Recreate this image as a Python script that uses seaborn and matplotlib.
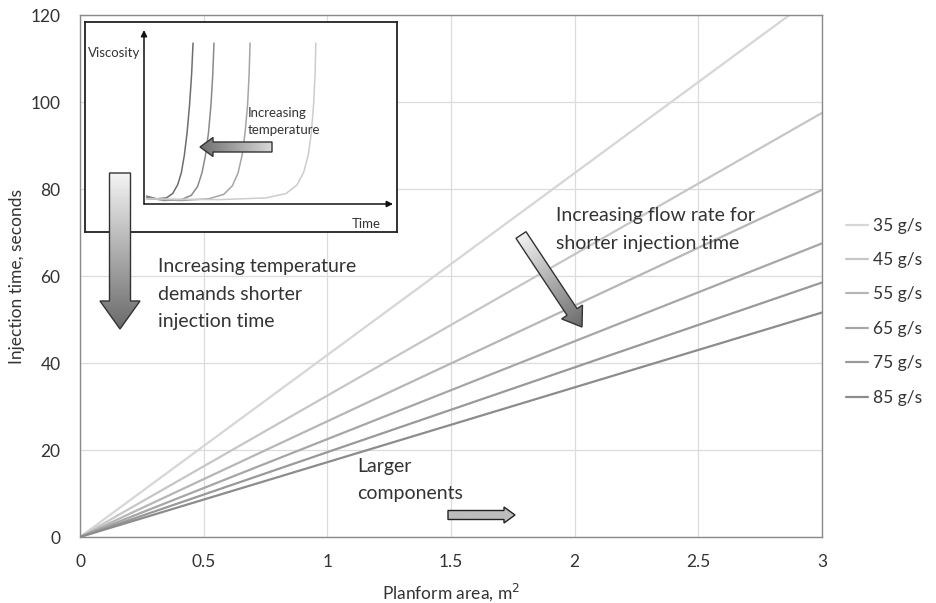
import numpy as np
import pandas as pd
import matplotlib
matplotlib.use("Agg")
import matplotlib.pyplot as plt
from matplotlib.patches import FancyArrow
import seaborn as sns

# Main chart data: injection time at planform area 0 and 3 m2
area = [0.0, 3.0]
flow_labels = ["35 g/s", "45 g/s", "55 g/s", "65 g/s", "75 g/s", "85 g/s"]
time_at_3 = [125.5, 97.5, 79.8, 67.5, 58.5, 51.6]
line_colors = ["#d6d6d6", "#c6c6c6", "#b6b6b6", "#a6a6a6", "#999999", "#8c8c8c"]

# Inset schematic: viscosity vs time (arbitrary units 0-10)
visc_time_1 = [0.1, 0.5, 0.9, 1.15, 1.35, 1.5, 1.62, 1.73, 1.83, 1.91, 1.97]
visc_val_1 = [0.45, 0.3, 0.35, 0.6, 1.1, 1.8, 2.8, 4.1, 5.7, 7.4, 9.25]
visc_time_2 = [0.1, 0.8, 1.5, 1.9, 2.15, 2.33, 2.47, 2.59, 2.69, 2.76, 2.81]
visc_val_2 = [0.4, 0.2, 0.25, 0.5, 1.0, 1.8, 2.8, 4.1, 5.7, 7.4, 9.25]
visc_time_3 = [0.1, 1.5, 2.6, 3.2, 3.55, 3.78, 3.94, 4.06, 4.16, 4.22, 4.26]
visc_val_3 = [0.3, 0.2, 0.3, 0.55, 1.05, 1.8, 2.8, 4.1, 5.7, 7.4, 9.25]
visc_time_4 = [0.1, 3.0, 4.9, 5.7, 6.15, 6.42, 6.6, 6.72, 6.81, 6.87, 6.9]
visc_val_4 = [0.3, 0.25, 0.35, 0.6, 1.1, 1.85, 2.85, 4.1, 5.7, 7.4, 9.25]
visc_colors = ["#6e6e6e", "#8a8a8a", "#a5a5a5", "#cccccc"]

rows = []
for lab, t3 in zip(flow_labels, time_at_3):
    rows.append({"area": area[0], "time": 0.0, "rate": lab})
    rows.append({"area": area[1], "time": t3, "rate": lab})
df = pd.DataFrame(rows)

sns.set_theme(style="white")
plt.rcParams["font.family"] = ["Lato", "DejaVu Sans"]

W, H = 936, 603
fig = plt.figure(figsize=(W / 100, H / 100), dpi=100)

def px_axes(x0, y0, x1, y1):
    return [x0 / W, 1 - y1 / H, (x1 - x0) / W, (y1 - y0) / H]

ax = fig.add_axes(px_axes(80, 15, 822, 537))
sns.lineplot(data=df, x="area", y="time", hue="rate", palette=line_colors,
             linewidth=1.6, ax=ax, legend=False)
ax.set_xlim(0, 3)
ax.set_ylim(0, 120)
ax.set_xticks(np.arange(0, 3.01, 0.5))
ax.set_xticklabels(["0", "0.5", "1", "1.5", "2", "2.5", "3"])
ax.set_yticks(np.arange(0, 121, 20))
ax.grid(True, color="#dcdcdc", linewidth=0.9)
for s in ax.spines.values():
    s.set_color("#8a8a8a")
    s.set_linewidth(1.0)
ax.tick_params(axis="both", length=0, labelsize=12.5, colors="#333333")
ax.tick_params(axis="x", pad=12)
ax.tick_params(axis="y", pad=14)
ax.set_xlabel("Planform area, m$^2$", fontsize=12.5, color="#333333", labelpad=8)
ax.set_ylabel("Injection time, seconds", fontsize=12.5, color="#333333", labelpad=4)

handles = [plt.Line2D([], [], color=c, lw=1.6) for c in line_colors]
fig.legend(handles, flow_labels, loc="upper left",
           bbox_to_anchor=(830 / W, 1 - 202 / H), frameon=False,
           fontsize=12.5, handlelength=1.3, handletextpad=0.3,
           labelspacing=1.06, labelcolor="#333333")

# Inset box
box = fig.add_axes(px_axes(85, 22, 397, 232))
box.set_facecolor("white")
box.set_xticks([])
box.set_yticks([])
for s in box.spines.values():
    s.set_color("#222222")
    s.set_linewidth(1.3)
box.set_zorder(3)

inner = fig.add_axes(px_axes(144, 30, 393, 204))
inner.set_zorder(4)
inner.patch.set_alpha(0)
inner.set_xlim(0, 10)
inner.set_ylim(0, 10)
inner.axis("off")
for tx, vy, c in zip([visc_time_1, visc_time_2, visc_time_3, visc_time_4],
                     [visc_val_1, visc_val_2, visc_val_3, visc_val_4], visc_colors):
    inner.plot(tx, vy, color=c, lw=1.1)
inner.annotate("", xy=(0, 1.0), xytext=(0, 0), xycoords="axes fraction",
               arrowprops=dict(arrowstyle="-|>", color="#111111", lw=1.1,
                               mutation_scale=9, shrinkA=0, shrinkB=0))
inner.annotate("", xy=(1.0, 0), xytext=(0, 0), xycoords="axes fraction",
               arrowprops=dict(arrowstyle="-|>", color="#111111", lw=1.1,
                               mutation_scale=9, shrinkA=0, shrinkB=0))

# Overlay in pixel coordinates for annotations
ov = fig.add_axes([0, 0, 1, 1])
ov.set_zorder(5)
ov.patch.set_alpha(0)
ov.axis("off")

def grad_arrow(x0, y0, x1, y1, width, head_w, head_l, c_start, c_end,
               edge="#333333"):
    arr = FancyArrow(x0, y0, x1 - x0, y1 - y0, width=width, head_width=head_w,
                     head_length=head_l, length_includes_head=True,
                     facecolor="none", edgecolor=edge, lw=1.0, zorder=6)
    ov.add_patch(arr)
    pad = head_w
    xs = np.linspace(min(x0, x1) - pad, max(x0, x1) + pad, 200)
    ys = np.linspace(min(y0, y1) - pad, max(y0, y1) + pad, 200)
    gx, gy = np.meshgrid(xs, ys)
    d = np.array([x1 - x0, y1 - y0])
    L = np.hypot(*d)
    t = ((gx - x0) * d[0] + (gy - y0) * d[1]) / L ** 2
    t = np.clip(t, 0, 1)
    cs = np.array(matplotlib.colors.to_rgb(c_start))
    ce = np.array(matplotlib.colors.to_rgb(c_end))
    img = cs[None, None, :] * (1 - t[..., None]) + ce[None, None, :] * t[..., None]
    im = ov.imshow(img, extent=(xs[0], xs[-1], ys[0], ys[-1]), origin="lower",
                   aspect="auto", zorder=5, interpolation="bilinear")
    im.set_clip_path(arr)

grad_arrow(120, 173, 120, 329, 21, 40, 28, "#f4f4f4", "#6a6a6a")
grad_arrow(521, 235, 582, 327, 12, 25, 18, "#f2f2f2", "#6a6a6a")
grad_arrow(448, 515, 515, 515, 9, 16, 11, "#bdbdbd", "#bdbdbd", edge="#222222")
grad_arrow(272, 147, 200, 147, 10, 19, 13, "#d8d8d8", "#6e6e6e")
ov.set_xlim(0, W)
ov.set_ylim(H, 0)

txt = dict(fontsize=14, color="#333333", linespacing=1.75, va="top", ha="left")
ov.text(158, 258, "Increasing temperature\ndemands shorter\ninjection time", **txt)
ov.text(556, 207, "Increasing flow rate for\nshorter injection time", **txt)
ov.text(357, 458, "Larger\ncomponents", **txt)
ov.text(88, 53, "Viscosity", fontsize=9.5, color="#333333", va="center", ha="left")
ov.text(352, 224, "Time", fontsize=9.5, color="#333333", va="center", ha="left")
ov.text(248, 107, "Increasing\ntemperature", fontsize=9.5, color="#333333",
        va="top", ha="left", linespacing=1.45)

fig.savefig("out.png", dpi=100)
